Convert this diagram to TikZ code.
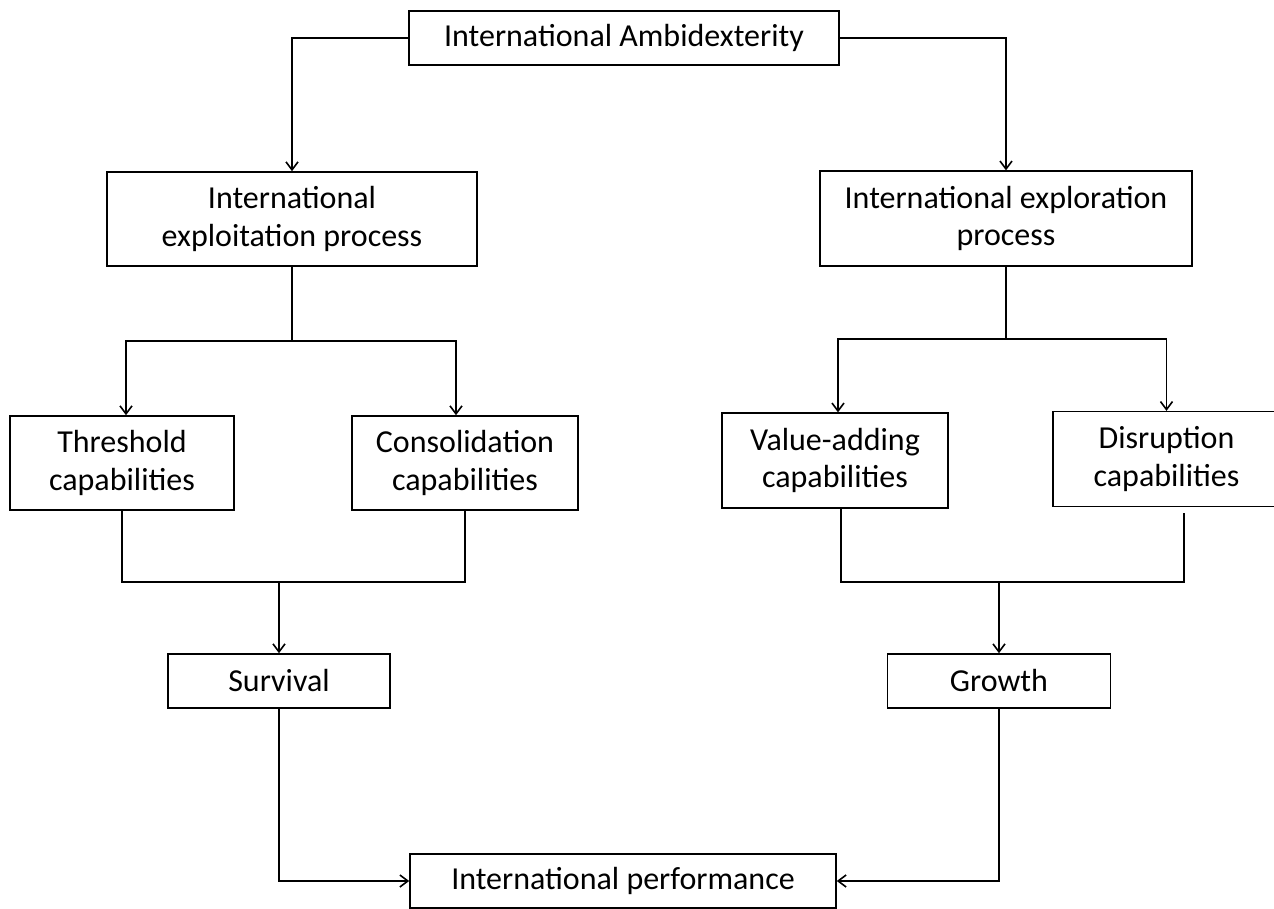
\documentclass[tikz,border=0pt]{standalone}
\usepackage{fontspec}
\setmainfont{Carlito}
\usetikzlibrary{arrows.meta, positioning}
\tikzset{
  box/.style = {draw, line width=1.2pt, align=center, inner sep=2pt, font=\fontsize{24}{28}\selectfont},
  link/.style = {line width=1.2pt},
  arrow/.style = {link, -{Straight Barb[length=6pt, width=9pt]}}
}

\begin{document}
\begin{tikzpicture}[x=0.75pt, y=-0.75pt]

  \useasboundingbox (0,0) rectangle (1274,909);

  %% Ambidexterity tree

  % Top
  \node[box, minimum width=322.5pt, minimum height=40.5pt] (amb) at (624,38) {International Ambidexterity};

  % Processes
  \node[box, minimum width=277.5pt, minimum height=70.5pt] (exploit) at (292,219) {International\\exploitation process};
  \node[box, minimum width=279pt, minimum height=71pt] (explore) at (1006,218.5) {International exploration\\process};

  % Capabilities
  \node[box, minimum width=168pt, minimum height=70.5pt] (thresh) at (122,463) {Threshold\\capabilities};
  \node[box, minimum width=169.5pt, minimum height=70.5pt] (consol) at (465,463) {Consolidation\\capabilities};
  \node[box, minimum width=169.5pt, minimum height=71pt] (value) at (835,460.5) {Value-adding\\capabilities};
  \node[box, minimum width=170pt, minimum height=71pt] (disrupt) at (1166.5,459) {Disruption\\capabilities};

  % Outcomes
  \node[box, minimum width=166.5pt, minimum height=40.5pt] (surv) at (279,681) {Survival};
  \node[box, minimum width=167pt, minimum height=40.5pt] (growth) at (999,681) {Growth};
  \node[box, minimum width=319.5pt, minimum height=40.5pt] (perf) at (623,881) {International performance};

  % Joints
  \coordinate (exploitfork) at (292,341);
  \coordinate (explorefork) at (1006,339);
  \coordinate (survjoin) at (279,582);
  \coordinate (growthjoin) at (999,582);

  % Top arrows
  \draw[arrow] (amb.west) -| (exploit.north);
  \draw[arrow] (amb.east) -| (explore.north);

  % Process branches
  \draw[link] (exploit.south) -- (exploitfork);
  \draw[arrow] (exploitfork) -| ([xshift=3pt]thresh.north);
  \draw[arrow] (exploitfork) -| ([xshift=-6.75pt]consol.north);
  \draw[link] (explore.south) -- (explorefork);
  \draw[arrow] (explorefork) -| ([xshift=2.25pt]value.north);
  \draw[arrow] (explorefork) -| (disrupt.north);

  % Capability merges
  \draw[link] (thresh.south) |- (survjoin) -| (consol.south);
  \draw[arrow] (survjoin) -- (surv.north);
  \draw[link] ([xshift=4.5pt]value.south) |- (growthjoin) -| ([xshift=13pt, yshift=-4.5pt]disrupt.south);
  \draw[arrow] (growthjoin) -- (growth.north);

  % Performance
  \draw[arrow] (surv.south) |- (perf.west);
  \draw[arrow] (growth.south) |- (perf.east);

\end{tikzpicture}
\end{document}
